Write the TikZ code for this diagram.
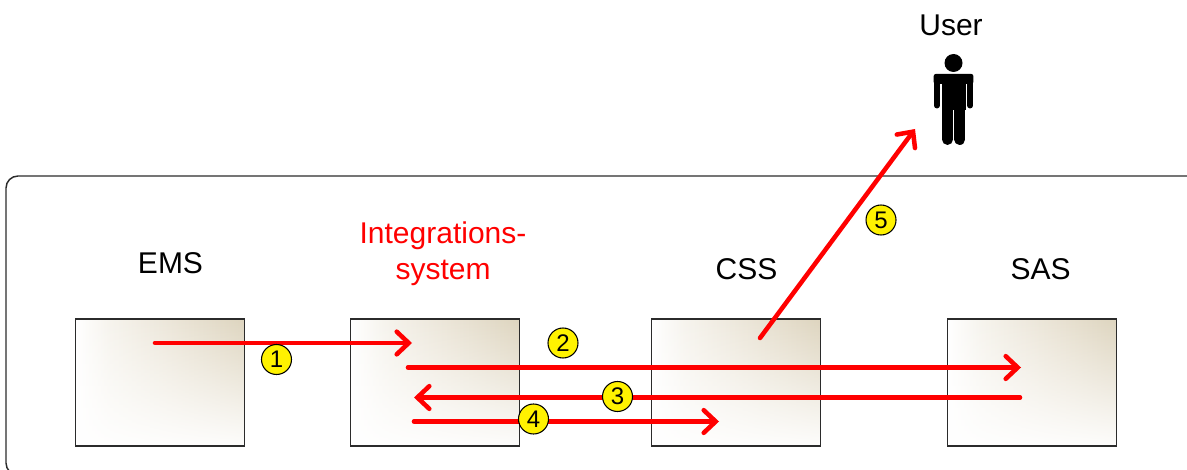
\documentclass[tikz,border=0pt]{standalone}
\usepackage{fontspec}
\setmainfont{Liberation Sans}
\usetikzlibrary{arrows.meta,fadings}
\definecolor{framegray}{HTML}{2B2B2B}
\pgfdeclarehorizontalshading{boxshade}{100bp}{
	rgb(0bp)=(1,1,1); rgb(25bp)=(1,1,1); rgb(35bp)=(0.965,0.955,0.93);
	rgb(55bp)=(0.92,0.895,0.84); rgb(75bp)=(0.87,0.835,0.75); rgb(100bp)=(0.87,0.835,0.75)}
\tikzfading[name=boxfade,top color=transparent!100,middle color=transparent!65,bottom color=transparent!5]
\tikzset{
	sysbox/.style={draw=framegray,line width=1.2pt,shading=boxshade,minimum width=126.75pt,minimum height=95pt,inner sep=0pt,
		path picture={\fill[white,path fading=boxfade] (path picture bounding box.south west) rectangle (path picture bounding box.north east);}},
	syslabel/.style={font=\fontsize{22.5}{27}\selectfont,inner sep=0pt},
	flow/.style={draw=red,line width=3.4pt,line cap=round,-{Straight Barb[length=9pt,width=17pt,line cap=round]}},
	badge/.style={circle,draw=black,line width=0.8pt,fill=yellow,minimum size=22.5pt,inner sep=0pt,font=\fontsize{18}{20}\selectfont},
}
\begin{document}
\begin{tikzpicture}[x=0.75pt,y=-0.75pt]
	\useasboundingbox (0,0) rectangle (1187,470);
	\coordinate (FT) at (1187,176);
	\coordinate (FB) at (21,475);
	\draw [framegray,line width=1.1pt,rounded corners=9pt] (FT) -| (6,475) -- (FB);
	\node [sysbox] (EMS) at (160,382.5) {};
	\node [sysbox] (INT) at (434.8,382.5) {};
	\node [sysbox] (CSS) at (736,382.5) {};
	\node [sysbox] (SAS) at (1031.8,382.5) {};
	\node [syslabel] (EMSl) at (170.5,263.5) {EMS};
	\node [syslabel,text=red,align=center] (INTl) at (443,254) {Integrations-\\system};
	\node [syslabel] (CSSl) at (746.5,269) {CSS};
	\node [syslabel] (SASl) at (1040.5,269) {SAS};
	\node [syslabel] (USERl) at (951,25) {User};
	% user figure
	\fill (953.5,63) circle (9);
	\fill [rounded corners=1.5pt] (933.7,74) rectangle (973.3,84);
	\fill (942,76) rectangle (965.5,110);
	\draw [line width=4.5pt,line cap=round] (936.8,78) to (936.8,105.5);
	\draw [line width=4.5pt,line cap=round] (970.2,78) to (970.2,105.5);
	\draw [line width=8.2pt,line cap=round] (947.5,100) to (947.5,139.5);
	\draw [line width=8.2pt,line cap=round] (959.8,100) to (959.8,139.5);
	% flows
	\coordinate (A1) at (155,343);
	\coordinate (B1) at (412,343);
	\coordinate (A2) at (408,367.5);
	\coordinate (B2) at (1021,367.5);
	\coordinate (A3) at (1020,397.5);
	\coordinate (B3) at (414,397.5);
	\coordinate (A4) at (414,421.5);
	\coordinate (B4) at (719,421.5);
	\coordinate (A5) at (760,338);
	\coordinate (B5) at (915,129);
	\draw [flow] (A1) to (B1);
	\draw [flow] (A2) to (B2);
	\draw [flow] (A3) to (B3);
	\draw [flow] (A4) to (B4);
	\draw [flow] (A5) to (B5);
	\node [badge] (N1) at (276.5,359.5) {1};
	\node [badge] (N2) at (563,343) {2};
	\node [badge] (N3) at (617.5,396.5) {3};
	\node [badge] (N4) at (533.5,419) {4};
	\node [badge] (N5) at (881,220) {5};
\end{tikzpicture}
\end{document}
